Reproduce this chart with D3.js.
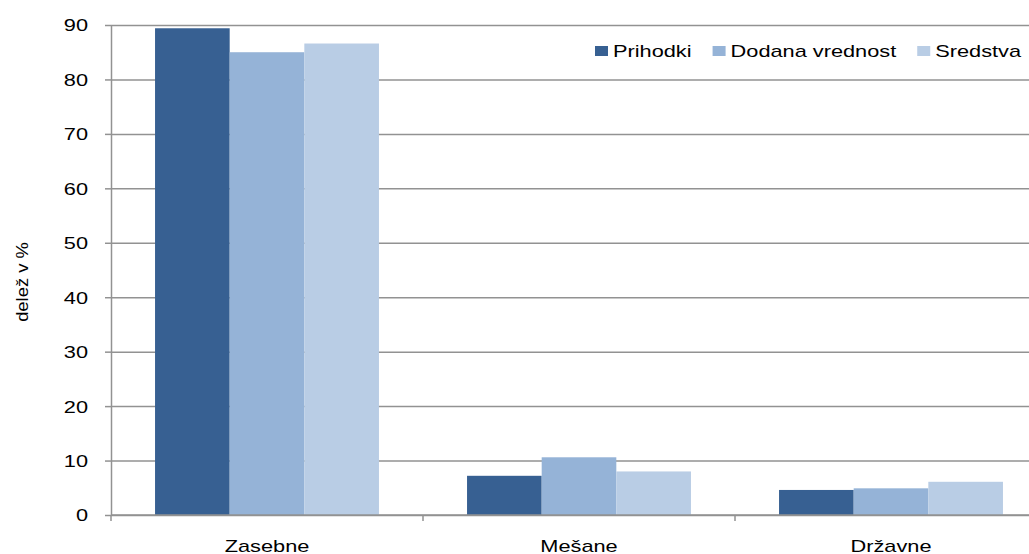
<!DOCTYPE html>
<html>
<head>
<meta charset="utf-8">
<script src="https://cdn.jsdelivr.net/npm/d3@7"></script>
<style>
  body { margin: 0; background: #fff; }
  text { font-family: "Liberation Sans", Arial, sans-serif; fill: #000; }
</style>
</head>
<body>
<div id="chart"></div>
<script>
var svgWidth = 1029;
var svgHeight = 554;

// data
var categories = ["Zasebne", "Mešane", "Državne"];
var seriesNames = ["Prihodki", "Dodana vrednost", "Sredstva"];
var prihodki = [89.4, 7.2, 4.6];
var dodanaVrednost = [85.0, 10.6, 4.9];
var sredstva = [86.6, 8.0, 6.1];
var yTicks = [0, 10, 20, 30, 40, 50, 60, 70, 80, 90];
var yLabel = "delež v %";

var colors = ["#376092", "#95b3d7", "#b9cde5"];
var stretch = 1.28; // text in the original is rendered wide

var margin = { top: 25, right: -18, bottom: 39, left: 111 };
var width = svgWidth - margin.left - margin.right;
var height = svgHeight - margin.top - margin.bottom;

var rows = categories.map(function(c, i) {
  return { cat: c, values: [prihodki[i], dodanaVrednost[i], sredstva[i]] };
});

var svg = d3.select("#chart")
  .append("svg")
  .attr("width", svgWidth)
  .attr("height", svgHeight);

var chart_group = svg.append("g")
  .attr("transform", `translate(${margin.left}, ${margin.top})`);

var x0 = d3.scaleBand()
  .domain(categories)
  .range([0, width])
  .padding(0);

var x1 = d3.scaleBand()
  .domain(seriesNames)
  .range([0, x0.bandwidth()])
  .paddingInner(0)
  .paddingOuter(0.59);

var y = d3.scaleLinear()
  .domain([0, 90])
  .range([height, 0]);

// gridlines
chart_group.append("g")
  .attr("class", "grid")
  .call(d3.axisLeft(y).tickValues(yTicks).tickSize(-(svgWidth - margin.left)).tickFormat(""))
  .call(g => g.select(".domain").remove())
  .selectAll("line")
  .attr("stroke", "#929292")
  .attr("stroke-width", 1.5);

// bars
var groups = chart_group.selectAll(".cat")
  .data(rows)
  .enter()
  .append("g")
  .attr("class", "cat")
  .attr("transform", d => `translate(${x0(d.cat)}, 0)`);

groups.selectAll("rect")
  .data(d => d.values.map((v, i) => ({ name: seriesNames[i], value: v, idx: i })))
  .enter()
  .append("rect")
  .attr("x", d => x1(d.name))
  .attr("y", d => y(d.value))
  .attr("width", x1.bandwidth())
  .attr("height", d => height - y(d.value))
  .attr("fill", d => colors[d.idx]);

// left axis
var leftAxis = chart_group.append("g")
  .call(d3.axisLeft(y).tickValues(yTicks).tickSizeInner(6).tickSizeOuter(0));
leftAxis.select(".domain").attr("stroke", "#929292").attr("stroke-width", 1.5);
leftAxis.selectAll(".tick line").attr("stroke", "#929292").attr("stroke-width", 1.5);
leftAxis.selectAll(".tick text")
  .attr("x", 0)
  .attr("dy", "0.35em")
  .attr("transform", `translate(-23, 0) scale(${stretch}, 1)`)
  .style("font-size", "17px")
  .style("font-family", "'Liberation Sans', Arial, sans-serif")
  .attr("fill", "#000");

// bottom axis: line plus ticks at category boundaries
var bottom = chart_group.append("g")
  .attr("transform", `translate(0, ${height})`);
bottom.append("line")
  .attr("x1", 0)
  .attr("x2", svgWidth - margin.left)
  .attr("stroke", "#929292")
  .attr("stroke-width", 1.5);
bottom.selectAll(".xtick")
  .data(categories)
  .enter()
  .append("line")
  .attr("class", "xtick")
  .attr("x1", d => x0(d))
  .attr("x2", d => x0(d))
  .attr("y1", 0)
  .attr("y2", 6)
  .attr("stroke", "#929292")
  .attr("stroke-width", 1.5);
bottom.selectAll(".xlabel")
  .data(categories)
  .enter()
  .append("text")
  .attr("class", "xlabel")
  .attr("text-anchor", "middle")
  .attr("transform", d => `translate(${x0(d) + x0.bandwidth() / 2}, 37) scale(${stretch}, 1)`)
  .style("font-size", "17px")
  .text(d => d);

// y axis title
svg.append("text")
  .attr("text-anchor", "middle")
  .attr("transform", "translate(28, 282) rotate(-90) scale(1.15, 1)")
  .style("font-size", "16px")
  .text(yLabel);

// legend
var legend = svg.append("g").attr("transform", "translate(595, 46)");
var lx = 0;
seriesNames.forEach(function(name, i) {
  var item = legend.append("g").attr("transform", `translate(${lx}, 0)`);
  item.append("rect")
    .attr("width", 13)
    .attr("height", 10)
    .attr("fill", colors[i]);
  var t = item.append("text")
    .attr("transform", `translate(18, 11) scale(${stretch}, 1)`)
    .style("font-size", "17px")
    .text(name);
  lx += 18 + t.node().getComputedTextLength() * stretch + 21;
});
</script>
</body>
</html>
